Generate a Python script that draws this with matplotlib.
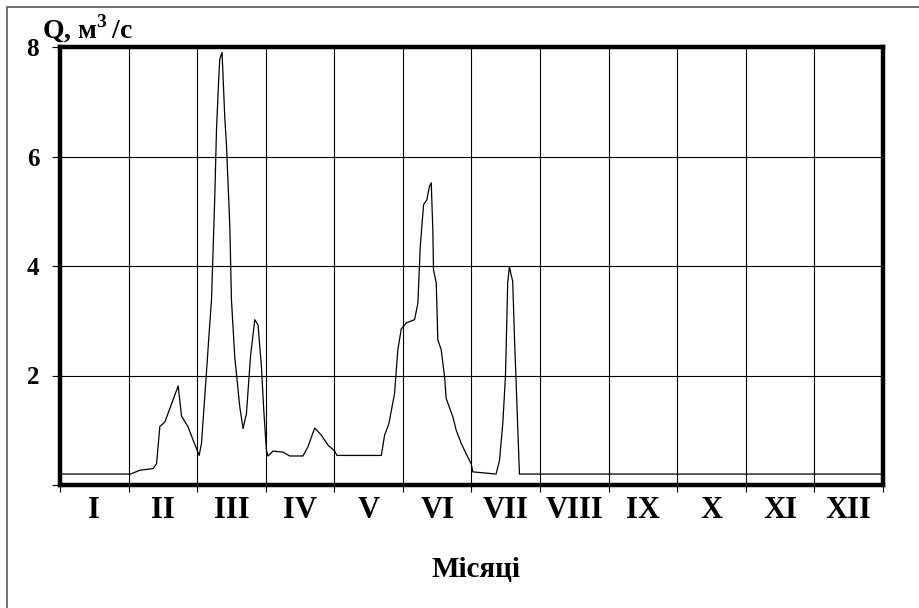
import matplotlib
matplotlib.use("Agg")
import matplotlib.pyplot as plt
from matplotlib.patches import Rectangle

# Discharge hydrograph: time in months (0..12), discharge Q in m3/s
months = [0.0, 1.03, 1.165, 1.359, 1.408, 1.456, 1.529, 1.723, 1.772, 1.868, 1.941,
          2.029, 2.063, 2.145, 2.174, 2.209, 2.257, 2.282, 2.315, 2.330, 2.363, 2.378,
          2.403, 2.427, 2.451, 2.476, 2.500, 2.548, 2.621, 2.669, 2.719, 2.777, 2.840,
          2.888, 2.937, 2.971, 3.010, 3.033, 3.106, 3.252, 3.349, 3.543, 3.616, 3.713,
          3.811, 3.907, 4.005, 4.038, 4.685, 4.733, 4.795, 4.878, 4.926, 4.976, 5.049,
          5.170, 5.218, 5.253, 5.301, 5.349, 5.388, 5.413, 5.436, 5.446, 5.486, 5.509,
          5.558, 5.607, 5.631, 5.727, 5.777, 5.850, 5.922, 5.995, 6.019, 6.359, 6.408,
          6.456, 6.495, 6.528, 6.553, 6.578, 6.601, 6.626, 6.651, 6.674, 6.699, 12.0]
discharge = [0.2, 0.2, 0.27, 0.3, 0.39, 1.07, 1.15, 1.81, 1.26, 1.06, 0.82,
             0.54, 0.76, 2.23, 2.77, 3.38, 5.27, 6.5, 7.44, 7.78, 7.9, 7.45,
             6.7, 6.22, 5.49, 4.73, 3.38, 2.34, 1.43, 1.03, 1.31, 2.34, 3.02,
             2.92, 2.16, 1.37, 0.63, 0.53, 0.62, 0.6, 0.53, 0.53, 0.7, 1.04,
             0.91, 0.73, 0.62, 0.54, 0.54, 0.91, 1.12, 1.67, 2.47, 2.85, 2.96,
             3.02, 3.32, 4.36, 5.12, 5.21, 5.46, 5.52, 4.66, 3.93, 3.69, 2.65,
             2.47, 1.98, 1.58, 1.25, 1.0, 0.76, 0.57, 0.39, 0.24, 0.2, 0.45,
             1.12, 1.98, 3.69, 3.99, 3.84, 3.72, 2.71, 1.86, 1.06, 0.2, 0.2]

month_labels = ["I", "II", "III", "IV", "V", "VI", "VII", "VIII", "IX", "X", "XI", "XII"]
y_ticks = [2, 4, 6, 8]
y_label = "Q, м$^{\\mathbf{3}}$$\\,$/с"
x_label = "Місяці"

serif = ["Liberation Serif", "DejaVu Serif"]
plt.rcParams["font.family"] = serif
plt.rcParams["mathtext.fontset"] = "custom"
plt.rcParams["mathtext.rm"] = "Liberation Serif"
plt.rcParams["mathtext.bf"] = "Liberation Serif:bold"

fig = plt.figure(figsize=(9.2, 6.08), dpi=100)
fig.patch.set_facecolor("white")

# outer border of the picture
fig.add_artist(Rectangle((7 / 920, -0.1), 1.2, 1 - 7 / 608 + 0.1, transform=fig.transFigure,
                         fill=False, edgecolor="#555555", linewidth=1.2))

ax = fig.add_axes([60 / 920, (608 - 485) / 608, (883 - 60) / 920, (485 - 47) / 608])
ax.plot(months, discharge, color="black", linewidth=0.9)

ax.set_xlim(0, 12)
ax.set_ylim(0, 8)

# grid
for m in range(1, 12):
    ax.axvline(m, color="black", linewidth=0.8, zorder=0)
for v in y_ticks[:-1]:
    ax.axhline(v, color="black", linewidth=0.8, zorder=0)

for s in ax.spines.values():
    s.set_linewidth(3.2)
    s.set_color("black")

ax.set_xticks(range(0, 13))
ax.set_xticklabels([])
ax.set_xticks([m + 0.5 for m in range(12)], minor=True)
ax.set_xticklabels(month_labels, minor=True, fontsize=22, fontweight="bold")
ax.tick_params(axis="x", which="major", direction="out", length=5, width=0.8)
ax.tick_params(axis="x", which="minor", length=0, pad=8)

ax.set_yticks([0] + y_ticks)
ax.set_yticklabels([""] + [str(v) for v in y_ticks], fontsize=18, fontweight="bold")
ax.tick_params(axis="y", direction="out", length=6, width=0.8, pad=9)

fig.text(476 / 920, 1 - 577 / 608, x_label, ha="center", va="baseline",
         fontsize=21, fontweight="bold")
fig.text(42 / 920, 1 - 38 / 608, y_label, ha="left", va="baseline",
         fontsize=20, fontweight="bold")

fig.savefig("out.png", dpi=100, facecolor="white")
